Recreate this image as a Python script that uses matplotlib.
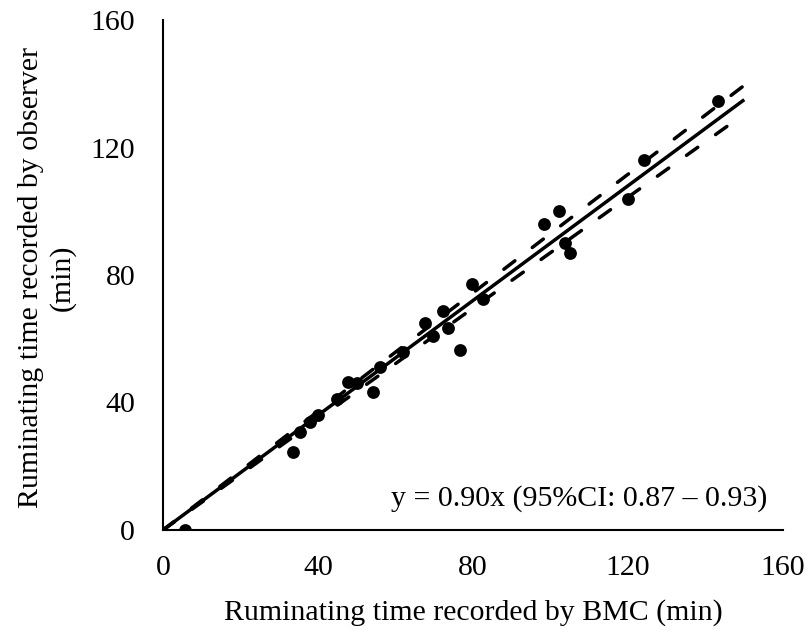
import numpy as np
import matplotlib
matplotlib.use("Agg")
import matplotlib.pyplot as plt

# BMC vs observer ruminating time (min)
bmc = [5.7, 33.6, 35.4, 38, 40, 45, 47.8, 50, 54.3, 56, 62, 67.6, 69.8, 72.3,
       73.6, 76.7, 79.7, 82.7, 98.4, 102.3, 103.8, 105.0, 119.9, 124.0, 143.3]
observer = [0, 24.6, 30.8, 34, 36, 41, 46.5, 46, 43.4, 51, 56, 64.8, 61.0, 68.8,
            63.5, 56.4, 77.2, 72.4, 95.9, 100.2, 89.9, 87.0, 103.9, 116.1, 134.7]

slope = 0.90
ci_low = 0.87
ci_high = 0.93
fit_range = [0, 150]

x_ticks = [0, 40, 80, 120, 160]
y_ticks = [0, 40, 80, 120, 160]

plt.rcParams['font.family'] = ['Liberation Serif', 'DejaVu Serif']
fs = 21.5

fig = plt.figure(figsize=(8.11, 6.32), dpi=100)
ax = fig.add_axes([163 / 811, 102 / 632, 620 / 811, 510 / 632])

ax.scatter(bmc, observer, s=85, color="black", zorder=2, linewidths=0)

xf = np.array(fit_range, dtype=float)
ax.plot(xf, slope * xf, color="black", lw=2.5, zorder=3, solid_capstyle="butt")
for k in (ci_low, ci_high):
    ax.plot(xf, k * xf, color="black", lw=2.5, zorder=3,
            dashes=(4, 6.3), dash_capstyle="round")

ax.text(156, 10, "y = 0.90x (95%CI: 0.87 \u2013 0.93)", ha="right", va="center",
        fontsize=fs)

ax.set_xlim(0, 160)
ax.set_ylim(0, 160)
ax.set_xticks(x_ticks)
ax.set_yticks(y_ticks)
ax.tick_params(length=0, labelsize=fs)
ax.tick_params(axis="x", pad=18)
ax.tick_params(axis="y", pad=20)

for s in ("top", "right"):
    ax.spines[s].set_visible(False)
for s in ("left", "bottom"):
    ax.spines[s].set_linewidth(1.5)

# axis titles placed in figure pixels to match the reference
fig.text(473 / 811, 1 - 613 / 632, "Ruminating time recorded by BMC (min)",
         ha="center", va="center", fontsize=fs)
fig.text(47 / 811, 1 - 278 / 632, "Ruminating time recorded by observer\n(min)",
         ha="center", va="center", rotation=90, fontsize=fs, linespacing=1.25)

fig.savefig("out.png", dpi=100)
